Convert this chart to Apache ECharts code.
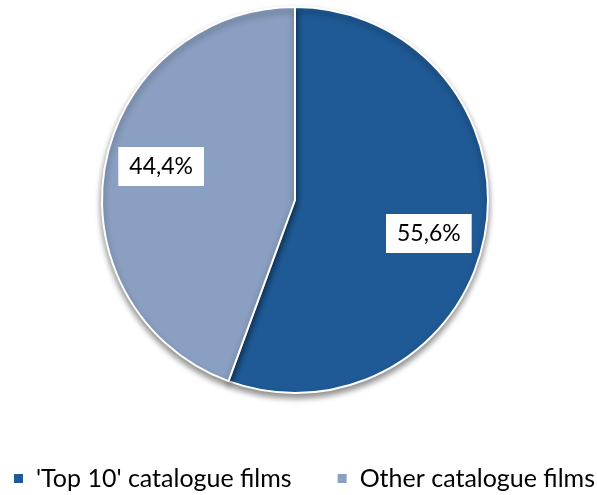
<!DOCTYPE html>
<html>
<head>
<meta charset="utf-8">
<script src="https://cdn.jsdelivr.net/npm/echarts@6/dist/echarts.min.js"></script>
<style>
  html, body { margin: 0; padding: 0; background: #ffffff; }
  #chart { width: 597px; height: 495px; }
</style>
</head>
<body>
<div id="chart"></div>
<script>
// Share of catalogue films
const categories = ["'Top 10' catalogue films", 'Other catalogue films'];
const shares = [55.6, 44.4];
const colors = ['#1F5A96', '#8A9FC1'];

const pieData = categories.map((name, i) => ({ name: name, value: shares[i] }));
const fmt = v => v.toFixed(1).replace('.', ',') + '%';

const chart = echarts.init(document.getElementById('chart'));
chart.setOption({
  animation: false,
  color: colors,
  legend: {
    left: 12,
    top: 466,
    width: 590,
    padding: 0,
    icon: 'rect',
    itemWidth: 11,
    itemHeight: 11,
    itemGap: 44,
    textStyle: {
      fontFamily: 'Lato',
      fontSize: 25,
      color: '#000000',
      padding: [0, 0, 0, 7]
    },
    data: categories
  },
  series: [
    {
      type: 'pie',
      center: [295, 200],
      radius: [0, 193],
      startAngle: 90,
      clockwise: true,
      silent: true,
      data: pieData,
      itemStyle: {
        borderColor: '#ffffff',
        borderWidth: 2,
        shadowBlur: 6,
        shadowOffsetY: 4,
        shadowColor: 'rgba(0,0,0,0.45)'
      },
      label: { show: false },
      labelLine: { show: false }
    },
    {
      // transparent carrier for the value labels, placed further out
      type: 'pie',
      center: [295, 200],
      radius: [0, 270],
      startAngle: 86,
      clockwise: true,
      silent: true,
      legendHoverLink: false,
      data: pieData.map(d => ({ name: d.name, value: d.value })),
      itemStyle: { color: 'rgba(0,0,0,0)' },
      label: {
        show: true,
        position: 'inside',
        formatter: p => fmt(p.value),
        fontFamily: 'Lato',
        fontSize: 23,
        color: '#000000',
        backgroundColor: '#ffffff',
        padding: [8, 11, 8, 11]
      },
      labelLine: { show: false }
    }
  ]
});
</script>
</body>
</html>
